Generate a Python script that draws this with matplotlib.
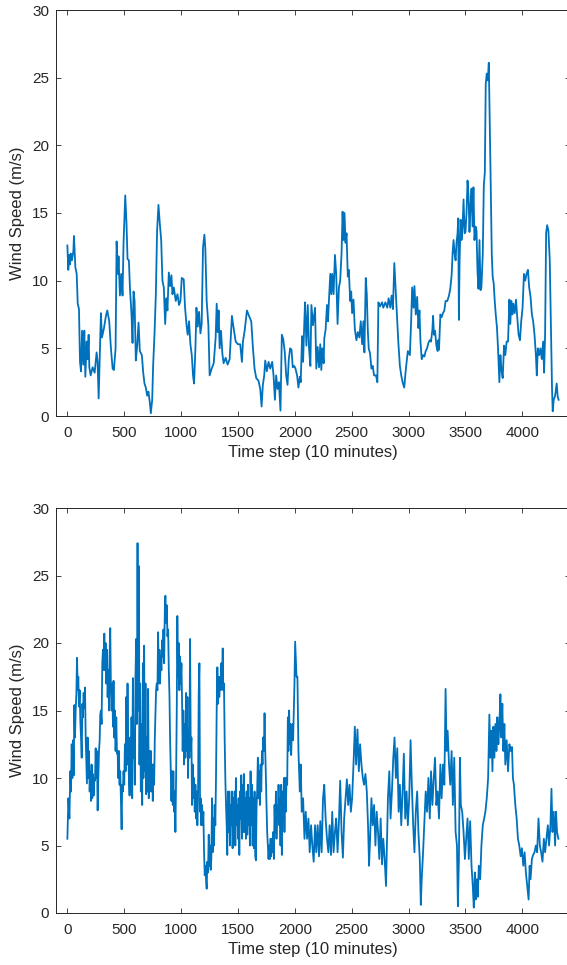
import numpy as np
import matplotlib
matplotlib.use('Agg')
import matplotlib.pyplot as plt

# wind speed series (time step, m/s)
t_top = [0, 8, 15, 23, 30, 40, 53, 58, 70, 82,
         91, 102, 111, 120, 129, 140, 149, 158, 170, 178,
         187, 193, 205, 222, 240, 257, 266, 275, 287, 295,
         304, 322, 339, 351, 368, 383, 398, 409, 424, 433,
         444, 450, 462, 474, 485, 494, 509, 520, 529, 541,
         550, 564, 573, 582, 591, 602, 614, 626, 637, 655,
         667, 678, 690, 702, 713, 725, 734, 746, 754, 766,
         778, 789, 801, 813, 825, 836, 848, 860, 871, 880,
         892, 904, 915, 924, 936, 953, 968, 982, 994, 1006,
         1023, 1035, 1047, 1058, 1070, 1082, 1094, 1105, 1114, 1126,
         1135, 1146, 1158, 1170, 1181, 1193, 1205, 1213, 1225, 1240,
         1251, 1269, 1287, 1304, 1313, 1322, 1330, 1339, 1351, 1363,
         1374, 1392, 1409, 1427, 1439, 1447, 1462, 1480, 1500, 1520,
         1535, 1544, 1559, 1579, 1597, 1617, 1632, 1646, 1661, 1681,
         1696, 1708, 1719, 1731, 1740, 1754, 1769, 1784, 1801, 1813,
         1825, 1836, 1848, 1860, 1874, 1886, 1898, 1912, 1924, 1936,
         1947, 1959, 1971, 1982, 1995, 2006, 2020, 2032, 2044, 2052,
         2064, 2073, 2082, 2090, 2102, 2114, 2125, 2137, 2146, 2160,
         2178, 2189, 2201, 2213, 2224, 2233, 2242, 2254, 2259, 2271,
         2283, 2292, 2300, 2312, 2321, 2329, 2341, 2353, 2364, 2376,
         2388, 2399, 2411, 2420, 2429, 2437, 2446, 2455, 2466, 2475,
         2487, 2496, 2504, 2516, 2528, 2542, 2554, 2568, 2580, 2592,
         2603, 2612, 2624, 2633, 2642, 2650, 2662, 2674, 2685, 2697,
         2714, 2726, 2735, 2749, 2767, 2778, 2796, 2813, 2825, 2840,
         2851, 2863, 2875, 2886, 2898, 2910, 2924, 2936, 2948, 2962,
         2977, 2994, 3012, 3023, 3032, 3044, 3052, 3064, 3076, 3087,
         3096, 3105, 3116, 3128, 3140, 3151, 3163, 3175, 3187, 3198,
         3210, 3216, 3224, 3233, 3245, 3256, 3262, 3268, 3280, 3291,
         3303, 3315, 3326, 3341, 3356, 3367, 3379, 3388, 3396, 3405,
         3414, 3422, 3431, 3437, 3443, 3449, 3458, 3466, 3475, 3484,
         3493, 3501, 3510, 3519, 3528, 3536, 3545, 3554, 3563, 3571,
         3580, 3589, 3598, 3606, 3615, 3624, 3633, 3641, 3653, 3662,
         3671, 3679, 3688, 3697, 3706, 3714, 3723, 3732, 3740, 3749,
         3758, 3767, 3778, 3787, 3799, 3808, 3816, 3828, 3840, 3851,
         3863, 3875, 3887, 3895, 3904, 3913, 3921, 3933, 3945, 3956,
         3968, 3980, 3991, 4003, 4015, 4026, 4038, 4050, 4061, 4073,
         4085, 4096, 4108, 4120, 4128, 4137, 4149, 4160, 4172, 4184,
         4192, 4201, 4210, 4219, 4230, 4242, 4254, 4262, 4268, 4277,
         4289, 4303, 4312, 4320]
v_top = [12.6, 10.8, 11.9, 11.2, 12.0, 11.5, 12.2, 13.3, 11.0, 10.5,
         8.3, 7.9, 4.0, 3.3, 6.3, 3.8, 6.3, 2.9, 5.5, 4.2,
         6.0, 3.6, 3.0, 3.6, 3.2, 4.7, 4.0, 1.3, 5.2, 7.6,
         5.8, 6.5, 7.4, 7.8, 7.0, 5.0, 3.5, 3.4, 5.0, 12.9,
         10.5, 11.8, 8.9, 10.5, 8.9, 12.8, 16.3, 14.2, 11.6, 11.5,
         9.5, 7.5, 5.4, 9.2, 8.5, 4.1, 5.2, 6.9, 4.8, 4.5,
         3.2, 2.4, 2.1, 1.5, 1.8, 1.0, 0.2, 1.2, 3.7, 6.0,
         9.0, 13.7, 15.6, 14.2, 13.0, 10.0, 9.5, 6.8, 8.7, 7.8,
         10.6, 9.6, 10.4, 9.0, 9.5, 8.5, 9.0, 8.2, 8.5, 10.2,
         10.1, 8.0, 6.8, 6.0, 7.0, 5.3, 4.5, 3.0, 2.4, 5.0,
         8.0, 6.6, 7.7, 6.1, 6.8, 12.5, 13.4, 12.4, 8.5, 6.7,
         3.0, 3.5, 3.9, 5.8, 8.3, 6.2, 7.8, 5.0, 6.3, 4.6,
         3.9, 4.3, 3.8, 4.2, 6.2, 7.4, 6.5, 5.5, 5.3, 5.3,
         4.0, 5.5, 6.3, 7.8, 7.4, 7.0, 5.0, 3.5, 2.8, 2.6,
         2.0, 0.7, 2.3, 3.0, 4.1, 3.3, 4.0, 3.5, 4.0, 3.0,
         1.2, 3.0, 2.0, 2.5, 0.4, 6.0, 5.7, 4.7, 3.0, 2.3,
         4.2, 5.0, 4.9, 3.6, 3.7, 3.5, 3.0, 2.1, 2.9, 2.5,
         5.9, 4.0, 6.5, 8.4, 5.2, 8.2, 5.0, 3.7, 8.2, 6.7,
         8.0, 3.5, 5.1, 3.6, 5.3, 3.4, 5.0, 3.9, 5.7, 6.4,
         8.2, 7.0, 8.5, 10.5, 9.0, 10.5, 9.0, 11.9, 10.5, 6.8,
         9.5, 10.0, 12.0, 15.1, 13.0, 15.0, 12.8, 13.5, 10.3, 10.8,
         8.5, 9.2, 7.6, 8.6, 6.4, 5.6, 6.2, 5.8, 7.0, 5.3,
         7.0, 4.7, 10.2, 9.0, 6.3, 5.0, 4.6, 3.5, 3.7, 3.0,
         3.0, 2.5, 8.4, 8.1, 8.4, 8.0, 8.4, 8.0, 8.7, 8.0,
         8.9, 7.9, 11.3, 9.5, 7.5, 5.5, 3.7, 3.0, 2.5, 2.1,
         3.5, 4.8, 4.5, 7.0, 9.5, 8.0, 9.6, 7.5, 8.8, 6.5,
         7.8, 5.5, 4.2, 4.5, 4.4, 4.8, 5.0, 5.4, 5.6, 5.5,
         6.4, 7.4, 6.0, 6.3, 5.2, 4.8, 5.6, 4.9, 7.5, 7.3,
         7.6, 7.8, 8.5, 8.5, 8.9, 9.4, 10.4, 12.1, 13.0, 12.0,
         11.5, 12.8, 13.5, 14.6, 7.1, 11.5, 14.5, 13.0, 14.0, 16.0,
         13.5, 13.6, 15.0, 17.4, 16.2, 13.6, 15.5, 16.8, 14.0, 16.9,
         13.0, 14.0, 13.7, 10.8, 9.4, 13.0, 9.3, 9.5, 12.0, 17.0,
         18.0, 24.5, 25.3, 24.8, 26.1, 22.0, 17.0, 12.0, 10.3, 9.8,
         8.5, 7.5, 6.5, 5.0, 2.5, 4.5, 3.5, 2.8, 5.2, 4.5,
         5.5, 5.5, 8.6, 6.8, 8.5, 7.5, 8.3, 7.6, 8.6, 7.3,
         6.0, 5.6, 7.0, 8.0, 10.5, 10.0, 10.5, 10.8, 9.5, 8.8,
         7.5, 7.0, 6.0, 4.5, 3.0, 5.0, 4.5, 5.0, 4.2, 5.5,
         3.2, 6.0, 13.5, 14.1, 13.7, 11.5, 6.0, 2.0, 0.35, 1.2,
         1.5, 2.4, 1.4, 1.2]

t_bot = [0, 9, 18, 26, 32, 38, 44, 50, 56, 61,
         67, 73, 79, 85, 91, 96, 102, 108, 114, 120,
         126, 132, 137, 143, 149, 155, 161, 167, 172, 178,
         184, 190, 196, 202, 208, 213, 219, 225, 231, 237,
         243, 249, 254, 260, 266, 272, 278, 284, 289, 295,
         301, 307, 313, 319, 325, 330, 336, 342, 348, 354,
         360, 366, 371, 377, 383, 389, 395, 401, 406, 412,
         418, 424, 430, 436, 442, 447, 453, 459, 465, 471,
         477, 482, 488, 494, 500, 506, 512, 518, 523, 529,
         535, 541, 547, 553, 558, 564, 570, 576, 582, 588,
         593, 599, 605, 611, 617, 623, 629, 634, 640, 646,
         652, 658, 664, 669, 675, 681, 687, 693, 699, 705,
         710, 716, 722, 728, 734, 740, 746, 751, 757, 763,
         769, 775, 780, 786, 792, 798, 804, 810, 815, 821,
         827, 833, 839, 845, 851, 857, 862, 868, 874, 880,
         886, 892, 898, 903, 909, 915, 921, 927, 932, 938,
         944, 950, 956, 962, 967, 973, 979, 985, 991, 997,
         1003, 1009, 1014, 1020, 1026, 1032, 1038, 1044, 1050, 1056,
         1061, 1067, 1073, 1079, 1085, 1091, 1096, 1102, 1108, 1114,
         1120, 1126, 1132, 1137, 1143, 1149, 1155, 1161, 1167, 1172,
         1178, 1184, 1190, 1196, 1202, 1208, 1213, 1219, 1225, 1231,
         1237, 1243, 1249, 1254, 1260, 1266, 1272, 1278, 1284, 1290,
         1295, 1301, 1307, 1313, 1319, 1325, 1330, 1336, 1342, 1348,
         1354, 1360, 1366, 1371, 1377, 1383, 1389, 1395, 1401, 1406,
         1412, 1418, 1424, 1430, 1436, 1441, 1447, 1453, 1459, 1465,
         1471, 1477, 1482, 1488, 1494, 1500, 1506, 1512, 1518, 1523,
         1529, 1535, 1541, 1547, 1552, 1558, 1564, 1570, 1576, 1582,
         1588, 1593, 1599, 1605, 1611, 1617, 1623, 1629, 1634, 1640,
         1646, 1652, 1658, 1664, 1669, 1675, 1681, 1687, 1693, 1699,
         1705, 1711, 1716, 1722, 1728, 1734, 1740, 1746, 1751, 1757,
         1763, 1769, 1775, 1781, 1787, 1792, 1798, 1804, 1810, 1816,
         1822, 1828, 1834, 1839, 1845, 1851, 1857, 1863, 1868, 1874,
         1880, 1886, 1892, 1898, 1904, 1909, 1915, 1921, 1927, 1933,
         1939, 1944, 1950, 1956, 1962, 1968, 1974, 1980, 1985, 1991,
         1997, 2003, 2015, 2023, 2032, 2044, 2052, 2061, 2073, 2085,
         2096, 2108, 2120, 2131, 2143, 2154, 2166, 2178, 2189, 2201,
         2213, 2224, 2236, 2248, 2259, 2271, 2283, 2295, 2306, 2318,
         2329, 2341, 2353, 2364, 2376, 2388, 2399, 2411, 2423, 2434,
         2446, 2458, 2469, 2481, 2493, 2504, 2516, 2528, 2539, 2551,
         2563, 2574, 2586, 2598, 2609, 2621, 2633, 2644, 2653, 2662,
         2674, 2685, 2697, 2709, 2720, 2732, 2743, 2755, 2767, 2778,
         2790, 2802, 2810, 2819, 2831, 2842, 2854, 2866, 2877, 2889,
         2901, 2913, 2924, 2936, 2948, 2959, 2971, 2983, 2994, 3006,
         3018, 3029, 3041, 3052, 3064, 3076, 3087, 3099, 3108, 3116,
         3128, 3140, 3151, 3163, 3175, 3187, 3198, 3210, 3222, 3233,
         3245, 3256, 3268, 3280, 3291, 3303, 3315, 3326, 3335, 3344,
         3356, 3367, 3379, 3390, 3402, 3414, 3426, 3434, 3443, 3452,
         3460, 3472, 3484, 3496, 3507, 3519, 3530, 3542, 3554, 3565,
         3574, 3583, 3591, 3600, 3609, 3618, 3630, 3641, 3653, 3665,
         3676, 3688, 3700, 3711, 3720, 3729, 3738, 3746, 3755, 3764,
         3773, 3781, 3790, 3799, 3808, 3816, 3825, 3834, 3843, 3851,
         3863, 3875, 3887, 3898, 3910, 3918, 3927, 3939, 3951, 3962,
         3974, 3986, 3997, 4009, 4021, 4032, 4044, 4056, 4065, 4073,
         4085, 4096, 4108, 4120, 4131, 4143, 4155, 4166, 4178, 4190,
         4201, 4213, 4225, 4236, 4248, 4257, 4266, 4277, 4289, 4297,
         4306, 4318]
v_bot = [5.5, 8.5, 7.0, 10.5, 9.0, 12.5, 10.0, 12.8, 10.2, 15.4,
         13.0, 15.0, 16.2, 18.9, 16.5, 17.5, 15.3, 16.5, 14.2, 13.0,
         11.5, 15.5, 14.5, 16.3, 15.2, 16.7, 13.0, 11.0, 9.6, 13.0,
         10.0, 12.0, 9.0, 10.5, 8.3, 11.0, 8.5, 10.3, 8.7, 10.0,
         9.8, 12.2, 10.0, 12.0, 7.6, 10.0, 12.0, 12.8, 14.7, 15.0,
         14.0, 18.5, 19.5, 18.0, 20.7, 18.0, 20.0, 17.0, 19.5, 16.0,
         18.0, 15.0, 19.0, 21.1, 16.5, 15.0, 17.0, 13.8, 17.2, 13.0,
         15.0, 12.0, 14.5, 11.8, 12.0, 10.0, 12.0, 9.5, 10.5, 8.5,
         6.2, 9.5, 9.0, 10.5, 9.5, 12.5, 10.5, 16.0, 11.0, 17.0,
         12.5, 10.0, 8.7, 13.0, 9.0, 14.5, 8.5, 17.4, 11.5, 13.0,
         9.5, 17.5, 20.3, 14.0, 27.4, 15.0, 25.7, 11.0, 17.0, 9.0,
         14.0, 8.0, 18.5, 10.0, 19.8, 10.5, 17.0, 8.8, 13.0, 9.0,
         16.6, 8.5, 12.0, 9.0, 12.0, 9.0, 11.0, 8.3, 11.0, 9.5,
         13.0, 15.0, 16.5, 17.0, 16.5, 20.8, 17.0, 19.5, 17.0, 19.0,
         18.0, 20.2, 19.0, 21.0, 18.5, 22.5, 23.5, 21.5, 22.8, 20.5,
         21.0, 18.0, 16.0, 13.0, 10.5, 8.3, 10.5, 8.0, 10.5, 7.5,
         9.0, 6.0, 10.0, 15.0, 22.0, 17.5, 20.0, 16.5, 19.0, 17.0,
         18.5, 15.5, 12.0, 15.0, 11.0, 14.0, 11.5, 16.3, 12.0, 16.0,
         10.0, 13.5, 11.5, 20.3, 12.0, 13.0, 8.0, 11.0, 8.5, 10.0,
         7.5, 9.5, 7.0, 9.0, 6.5, 8.5, 16.3, 18.5, 7.5, 8.5,
         6.5, 8.0, 6.5, 7.5, 4.5, 2.8, 3.5, 2.5, 1.8, 3.8,
         3.0, 5.8, 3.5, 5.0, 3.2, 4.0, 8.5, 4.5, 7.0, 5.0,
         8.0, 6.5, 10.0, 15.0, 18.2, 15.5, 17.5, 16.0, 17.5, 16.5,
         18.5, 17.0, 19.6, 16.5, 17.0, 13.0, 10.0, 8.0, 6.5, 4.3,
         9.0, 6.0, 9.0, 5.0, 8.0, 6.5, 9.0, 4.8, 8.5, 6.0,
         9.0, 5.0, 10.0, 6.5, 8.0, 5.5, 8.5, 4.3, 9.0, 7.0,
         10.2, 5.5, 9.5, 6.0, 10.3, 6.0, 8.5, 5.5, 9.0, 5.8,
         9.5, 6.5, 8.5, 5.0, 10.5, 6.5, 9.5, 5.0, 8.5, 4.8,
         9.0, 4.2, 3.9, 8.0, 9.0, 11.5, 8.5, 10.5, 8.0, 11.0,
         9.0, 12.0, 11.0, 13.0, 12.0, 14.8, 12.0, 10.0, 8.0, 6.0,
         5.0, 4.0, 5.0, 4.0, 5.5, 4.2, 5.5, 4.5, 6.0, 4.0,
         8.0, 6.0, 9.0, 5.5, 8.0, 7.0, 9.5, 6.5, 8.5, 5.0,
         9.5, 4.3, 9.0, 7.0, 10.0, 6.0, 10.0, 7.5, 10.0, 9.5,
         14.5, 12.0, 15.0, 12.5, 14.0, 11.7, 13.5, 14.0, 12.8, 15.0,
         17.0, 20.1, 17.5, 17.5, 12.0, 9.0, 11.0, 7.5, 8.5, 5.5,
         7.5, 5.5, 7.0, 4.5, 6.5, 5.0, 3.8, 6.5, 4.5, 6.5,
         4.2, 6.8, 4.5, 8.5, 9.5, 7.0, 5.5, 4.5, 6.5, 4.3,
         7.5, 4.5, 6.0, 7.0, 4.5, 6.8, 9.8, 6.0, 4.1, 7.0,
         8.5, 9.9, 8.0, 9.5, 7.5, 8.5, 11.0, 13.8, 11.0, 13.6,
         10.5, 12.5, 11.0, 10.0, 9.5, 10.3, 9.0, 6.5, 3.5, 5.5,
         8.5, 6.5, 8.0, 5.0, 7.5, 6.0, 4.0, 7.0, 3.6, 5.5,
         4.0, 2.0, 5.0, 8.5, 10.5, 7.0, 9.0, 11.5, 13.0, 10.0,
         12.2, 7.5, 9.5, 6.5, 9.0, 11.8, 7.0, 9.0, 6.5, 8.5,
         12.8, 9.5, 6.5, 4.5, 7.5, 9.0, 6.0, 4.0, 0.6, 2.5,
         4.5, 6.8, 9.0, 7.5, 10.0, 7.0, 10.5, 8.0, 10.0, 11.5,
         8.0, 9.0, 7.0, 11.0, 8.5, 11.0, 9.5, 16.6, 12.0, 13.5,
         11.0, 9.5, 12.0, 8.0, 11.5, 6.0, 5.0, 0.5, 4.0, 11.5,
         8.0, 7.5, 6.0, 4.0, 5.5, 7.0, 4.0, 6.8, 3.5, 2.0,
         0.4, 3.0, 1.0, 2.5, 1.2, 3.5, 2.5, 5.0, 6.5, 7.0,
         7.5, 8.5, 10.0, 14.7, 11.5, 13.5, 10.5, 13.8, 11.5, 14.0,
         12.0, 14.5, 12.5, 14.0, 16.2, 13.0, 15.5, 12.0, 14.0, 11.0,
         12.8, 10.5, 12.5, 12.0, 12.3, 10.0, 9.5, 8.0, 7.0, 5.5,
         5.0, 4.2, 4.8, 3.5, 4.5, 3.0, 2.0, 1.0, 3.5, 2.5,
         4.0, 4.3, 4.5, 5.0, 4.5, 7.0, 5.0, 4.5, 3.8, 5.5,
         4.5, 5.5, 6.5, 5.0, 6.5, 9.2, 6.0, 7.5, 5.0, 7.5,
         6.0, 5.5]

x_ticks = [0, 500, 1000, 1500, 2000, 2500, 3000, 3500, 4000]
y_ticks = [0, 5, 10, 15, 20, 25, 30]

plt.rcParams['font.family'] = ['Liberation Sans', 'DejaVu Sans']

W, H = 567, 965
fig = plt.figure(figsize=(W / 100, H / 100), dpi=100)

line_col = '#0072BD'
axis_col = '#262626'


def setup(ax):
    ax.set_xlim(-100, 4420)
    ax.set_ylim(0, 30)
    ax.set_xticks(x_ticks)
    ax.set_yticks(y_ticks)
    ax.tick_params(direction='in', top=True, right=True, length=3.5,
                   width=0.6, colors=axis_col, labelsize=11)
    ax.tick_params(axis='x', pad=7)
    ax.tick_params(axis='y', pad=5)
    for s in ax.spines.values():
        s.set_color(axis_col)
        s.set_linewidth(0.7)
    ax.set_xlabel('Time step (10 minutes)', fontsize=12, color=axis_col, labelpad=4)
    ax.set_ylabel('Wind Speed (m/s)', fontsize=12, color=axis_col, labelpad=5)


ax1 = fig.add_axes([56 / W, 1 - 416 / H, (570 - 56) / W, (416 - 10) / H])
ax1.plot(np.array(t_top), np.array(v_top), color=line_col, lw=1.3)
setup(ax1)

ax2 = fig.add_axes([56 / W, 1 - 913 / H, (570 - 56) / W, (913 - 508) / H])
ax2.plot(np.array(t_bot), np.array(v_bot), color=line_col, lw=1.3)
setup(ax2)

fig.savefig('out.png', dpi=100)
